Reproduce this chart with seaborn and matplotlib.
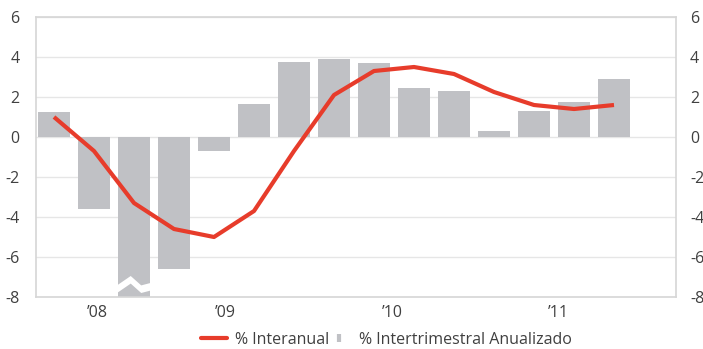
import numpy as np
import pandas as pd
import matplotlib
matplotlib.use("Agg")
import matplotlib.pyplot as plt
from matplotlib.lines import Line2D
from matplotlib.patches import Polygon
from matplotlib.legend_handler import HandlerLine2D
import seaborn as sns

# Quarterly series, Q1 2008 .. Q3 2011
quarters = list(range(15))
interanual = [1.0, -0.7, -3.3, -4.6, -5.0, -3.7, -0.7, 2.1, 3.3, 3.5, 3.15, 2.25, 1.6, 1.4, 1.6]
intertrimestral = [1.27, -3.6, -9.0, -6.6, -0.68, 1.67, 3.77, 3.88, 3.72, 2.47, 2.32, 0.32, 1.32, 1.75, 2.92]
year_labels = ["\u201908", "\u201909", "\u201910", "\u201911"]
year_positions = [1.075, 4.275, 8.45, 12.6]
y_ticks = [-8, -6, -4, -2, 0, 2, 4, 6]

RED = "#e73c2b"
GREY = "#c0c1c5"
TEXT = "#404040"
FRAME = "#d6d6d6"
GRID = "#e6e6e6"


class RightMarkerHandler(HandlerLine2D):
    """Legend handler that puts a single marker near the right end of the handle box."""

    def get_xdata(self, legend, xdescent, ydescent, width, height, fontsize):
        xdata = np.array([-xdescent, -xdescent + width])
        xmark = np.array([-xdescent + width * 0.88])
        return xdata, xmark


sns.set_theme(style="white")
plt.rcParams["font.family"] = ["Open Sans", "DejaVu Sans"]

df = pd.DataFrame({"q": quarters, "yoy": interanual, "qoq": intertrimestral})

fig = plt.figure(figsize=(7.03, 3.49), dpi=100)
ax = fig.add_axes([36 / 703, 1 - 297 / 349, 640 / 703, 280 / 349])

ax.set_axisbelow(True)
ax.yaxis.grid(True, color=GRID, linewidth=1.0)
ax.xaxis.grid(False)

sns.barplot(data=df, x="q", y="qoq", color=GREY, saturation=1, width=0.78,
            edgecolor="none", ax=ax, zorder=2)
sns.lineplot(data=df, x="q", y="yoy", color=RED, linewidth=3.0, ax=ax,
             zorder=3, solid_capstyle="butt")

ymin, ymax = -8, 6
ax.set_ylim(ymin, ymax)
ax.set_xlim(-0.45, 15.55)

# Break mark on the bar that runs past the axis floor
for bar, val in zip(ax.patches, intertrimestral):
    if val < ymin:
        x0, w = bar.get_x(), bar.get_width()
        fx = [0.0, 0.4, 0.72, 1.0]
        top = [-7.4, -6.95, -7.42, -7.3]
        thick = 0.38
        upper = [(x0 - 0.02 + f * (w + 0.04), t) for f, t in zip(fx, top)]
        lower = [(x0 - 0.02 + f * (w + 0.04), t - thick) for f, t in zip(fx, top)]
        ax.add_patch(Polygon(upper + lower[::-1], closed=True, facecolor="white",
                             edgecolor="none", zorder=2.5))

ax.set_yticks(y_ticks)
ax.set_yticklabels([str(t) for t in y_ticks])
ax.set_xticks(year_positions)
ax.set_xticklabels(year_labels)
ax.set_xlabel("")
ax.set_ylabel("")
ax.tick_params(axis="both", length=0, labelsize=11.5, labelcolor=TEXT)
ax.tick_params(axis="y", pad=12)
ax.tick_params(axis="x", pad=6)

for side in ["left", "right", "top", "bottom"]:
    ax.spines[side].set_visible(True)
    ax.spines[side].set_color(FRAME)
    ax.spines[side].set_linewidth(1.2)

ax2 = ax.twinx()
ax2.set_ylim(ymin, ymax)
ax2.set_yticks(y_ticks)
ax2.set_yticklabels([str(t) for t in y_ticks])
ax2.tick_params(axis="y", length=0, labelsize=11.5, labelcolor=TEXT, pad=10)
for side in ["left", "right", "top", "bottom"]:
    ax2.spines[side].set_visible(False)
ax2.grid(False)

line_handle = Line2D([], [], color=RED, linewidth=3.0)
bar_handle = Line2D([], [], color=GREY, linestyle="none", marker="|",
                    markersize=6, markeredgewidth=3)
fig.legend([line_handle, bar_handle],
           ["% Interanual", "% Intertrimestral Anualizado"],
           loc="center", bbox_to_anchor=(0.55, 1 - 340 / 349), ncol=2,
           frameon=False, fontsize=11.5, handlelength=1.65, handletextpad=0.45,
           columnspacing=-0.2, labelcolor=TEXT, borderpad=0.2,
           handler_map={bar_handle: RightMarkerHandler(numpoints=1)})

fig.savefig("out.png", dpi=100)
